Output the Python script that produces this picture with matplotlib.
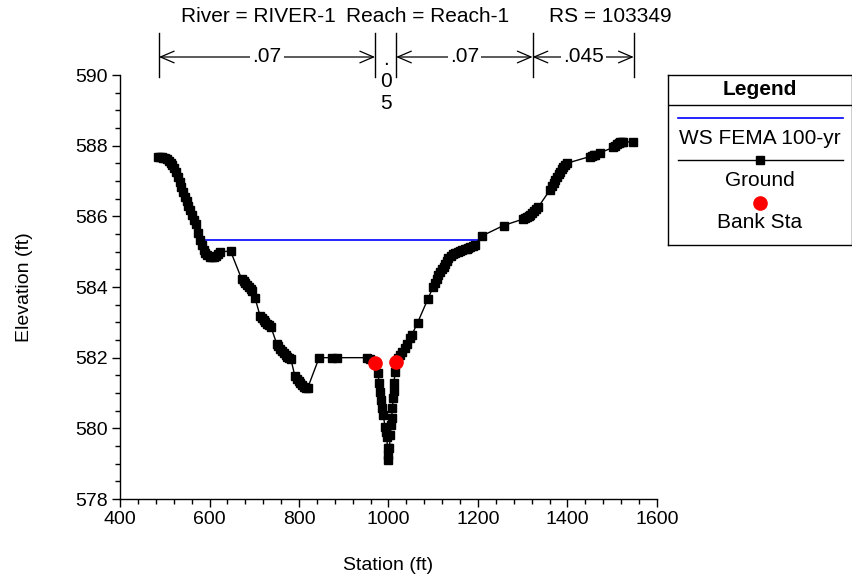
import numpy as np
import matplotlib
matplotlib.use('Agg')
import matplotlib.pyplot as plt
from matplotlib.transforms import blended_transform_factory

# ── fonts ───────────────────────────────────────────────────────────────────
plt.rcParams['font.family'] = ['Liberation Sans', 'DejaVu Sans']
plt.rcParams['font.size'] = 14

# ── data: ground profile (station ft, elevation ft) ────────────────────────
station = [
    485, 489, 493, 497, 501, 505, 509, 513, 517, 521, 525, 529, 533, 537,
    541, 545, 549, 553, 557, 561, 565, 569, 575, 579, 583, 587, 591, 595,
    600, 605, 610, 615, 620, 624, 647,
    672, 676, 680, 684, 688, 692, 696, 702,
    713, 717, 721, 725, 729, 733, 737,
    750, 754, 758, 762, 766, 770, 774, 778, 782,
    791, 795, 799, 803, 807, 811, 815, 819,
    845, 873, 884, 951, 958, 970,
    976, 979.5, 981, 983, 986, 988.5, 992, 994, 996, 998, 999, 1000,
    1002, 1004, 1006, 1007, 1008.5, 1010.7, 1011.5, 1012.3, 1014.5, 1017,
    1021, 1026, 1031, 1037, 1042, 1048, 1052, 1065, 1088,
    1100, 1104, 1108, 1111, 1115, 1119, 1123, 1127, 1131, 1134,
    1140, 1145, 1149, 1155, 1160, 1164, 1170, 1175, 1178, 1183, 1188, 1193,
    1208, 1257,
    1300, 1305, 1309, 1313, 1317, 1321, 1325, 1330, 1335,
    1361, 1365, 1369, 1372, 1376, 1380, 1383, 1387, 1391, 1394, 1398,
    1450, 1455, 1459, 1462, 1473,
    1502, 1506, 1510, 1514, 1518, 1522, 1525, 1546]
elevation = [
    587.69, 587.68, 587.67, 587.66, 587.64, 587.62, 587.57, 587.52, 587.45,
    587.36, 587.25, 587.12, 586.98, 586.84, 586.70, 586.56, 586.43, 586.30,
    586.17, 586.04, 585.91, 585.78, 585.54, 585.33, 585.18, 585.06, 584.96,
    584.90, 584.86, 584.84, 584.85, 584.87, 584.93, 584.99, 585.02,
    584.22, 584.17, 584.12, 584.06, 584.00, 583.95, 583.90, 583.68,
    583.18, 583.12, 583.06, 583.00, 582.96, 582.92, 582.88,
    582.40, 582.32, 582.24, 582.18, 582.12, 582.07, 582.03, 581.99, 581.95,
    581.47, 581.40, 581.33, 581.27, 581.22, 581.18, 581.15, 581.13,
    582.00, 582.00, 582.00, 582.00, 581.96, 581.86,
    581.56, 581.27, 581.04, 580.80, 580.57, 580.38, 580.05, 579.90, 579.76,
    579.43, 579.25, 579.10,
    579.45, 579.80, 580.10, 580.28, 580.57, 580.85, 581.05, 581.27, 581.60,
    581.89,
    582.00, 582.07, 582.17, 582.26, 582.38, 582.55, 582.64, 582.99, 583.66,
    584.01, 584.10, 584.24, 584.34, 584.42, 584.50, 584.57, 584.66, 584.75,
    584.81,
    584.88, 584.93, 584.95, 585.00, 585.03, 585.05, 585.07, 585.08, 585.09,
    585.12, 585.15, 585.19,
    585.44, 585.74,
    585.92, 585.94, 585.98, 586.02, 586.05, 586.09, 586.14, 586.20, 586.27,
    586.75, 586.85, 586.95, 587.03, 587.12, 587.20, 587.26, 587.33, 587.40,
    587.45, 587.50,
    587.69, 587.71, 587.73, 587.74, 587.80,
    587.95, 587.99, 588.04, 588.07, 588.09, 588.10, 588.11, 588.10]

# water surface (FEMA 100-yr)
ws_station = [580, 1200]
ws_elevation = [585.33, 585.33]

# bank stations
bank_station = [970, 1017]
bank_elevation = [581.86, 581.89]

# Manning's n breaks and values
n_breaks = [487, 970, 1017, 1322, 1548]
n_values = ['.07', '.05', '.07', '.045']

title_parts = ['River = RIVER-1', 'Reach = Reach-1', 'RS = 103349']

# ── figure ──────────────────────────────────────────────────────────────────
W, H = 853, 580
fig = plt.figure(figsize=(W / 100, H / 100), dpi=100)
ax = fig.add_axes([120 / W, 1 - 499 / H, 537 / W, 424 / H])

ax.plot(ws_station, ws_elevation, color='blue', lw=1.2, zorder=2)
ax.plot(station, elevation, color='black', lw=1, marker='s', ms=5.2,
        mfc='black', mec='black', zorder=3)
ax.plot(bank_station, bank_elevation, 'o', color='red', ms=9.5, zorder=4)

ax.set_xlim(400, 1600)
ax.set_ylim(578, 590)
ax.set_xticks(np.arange(400, 1601, 200))
ax.set_xticks(np.arange(400, 1601, 40), minor=True)
ax.set_yticks(np.arange(578, 590.1, 2))
ax.set_yticks(np.arange(578, 590.1, 0.5), minor=True)
ax.tick_params(which='major', direction='out', length=6, width=1, labelsize=14, pad=3)
ax.tick_params(which='minor', direction='out', length=3.5, width=1)
for side in ['top', 'right']:
    ax.spines[side].set_visible(False)
for side in ['left', 'bottom']:
    ax.spines[side].set_linewidth(1)

fig.text(388 / W, 1 - 565 / H, 'Station (ft)', ha='center', va='center', fontsize=14)
fig.text(25 / W, 1 - 287 / H, 'Elevation (ft)', ha='center', va='center',
         rotation=90, fontsize=14)

# ── title line ──────────────────────────────────────────────────────────────
for txt, xc in zip(title_parts, [258, 428, 610]):
    fig.text(xc / W, 1 - 16 / H, txt, ha='center', va='center', fontsize=15)

# ── Manning's n brackets above the plot ─────────────────────────────────────
trans = blended_transform_factory(ax.transData, fig.transFigure)
y_arrow = 1 - 57 / H
for s in n_breaks:
    ax.plot([s, s], [1 - 33 / H, 1 - 77 / H], color='black', lw=1,
            transform=trans, clip_on=False)

for i, n in enumerate(n_values):
    a, b = n_breaks[i], n_breaks[i + 1]
    mid = (a + b) / 2
    if b - a > 100:
        ax.annotate('', xy=(a, y_arrow), xytext=(b, y_arrow), xycoords=trans,
                    textcoords=trans,
                    arrowprops=dict(arrowstyle='<->,head_length=0.7,head_width=0.3',
                                    color='black', lw=0.9, shrinkA=0, shrinkB=0))
        ax.text(mid, y_arrow, n, transform=trans, ha='center', va='center',
                fontsize=15, bbox=dict(fc='white', ec='none', pad=1.5))
    else:
        # too narrow: stack the characters vertically
        for k, ch in enumerate(n):
            ax.text(mid, 1 - (65 + 22 * k) / H, ch, transform=trans,
                    ha='center', va='baseline', fontsize=15)

# ── legend box ──────────────────────────────────────────────────────────────
leg = fig.add_axes([668 / W, 1 - 245 / H, 184 / W, 170 / H])
leg.set_xlim(668, 852)
leg.set_ylim(245, 75)
leg.set_xticks([])
leg.set_yticks([])
for sp in leg.spines.values():
    sp.set_linewidth(1)
leg.axhline(105, color='black', lw=1)
leg.text(760, 89, 'Legend', ha='center', va='center', fontsize=15, weight='bold')
leg.plot([678, 843], [118, 118], color='blue', lw=1.2)
leg.text(760, 138, 'WS FEMA 100-yr', ha='center', va='center', fontsize=15)
leg.plot([678, 843], [160, 160], color='black', lw=1)
leg.plot([760], [160], 's', color='black', ms=5.5)
leg.text(760, 180, 'Ground', ha='center', va='center', fontsize=15)
leg.plot([760], [203], 'o', color='red', ms=9.5)
leg.text(760, 223, 'Bank Sta', ha='center', va='center', fontsize=15)

plt.savefig('out.png', dpi=100)
